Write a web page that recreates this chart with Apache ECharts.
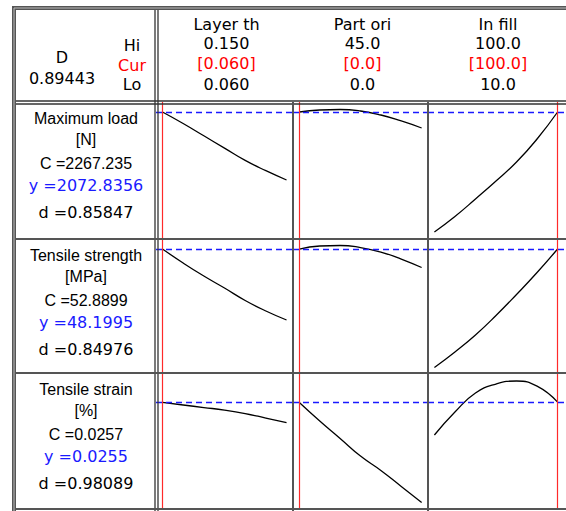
<!DOCTYPE html>
<html>
<head>
<meta charset="utf-8">
<script src="https://cdn.jsdelivr.net/npm/echarts@6/dist/echarts.min.js"></script>
<style>
  html, body { margin: 0; padding: 0; background: #fff; }
  #main { width: 566px; height: 511px; }
</style>
</head>
<body>
<div id="main"></div>
<script>
// factor header
const factors = ["Layer th", "Part ori", "In fill"];
const factorHi = ["0.150", "45.0", "100.0"];
const factorCur = ["[0.060]", "[0.0]", "[100.0]"];
const factorLo = ["0.060", "0.0", "10.0"];
const factorMin = [0.06, 0, 10];
const factorMax = [0.15, 45, 100];
const currentX = [0.06, 0, 100];

// x grid of each factor
const layerTh = [0.06, 0.075, 0.09, 0.105, 0.12, 0.135, 0.15];
const partOri = [0, 7.5, 15, 22.5, 30, 37.5, 45];
const inFill = [10, 25, 40, 55, 70, 85, 100];

// responses
const responses = ["Maximum load", "Tensile strength", "Tensile strain"];
const units = ["[N]", "[MPa]", "[%]"];
const targets = ["C =2267.235", "C =52.8899", "C =0.0257"];
const predicted = ["y =2072.8356", "y =48.1995", "y =0.0255"];
const desirability = ["d =0.85847", "d =0.84976", "d =0.98089"];
const currentY = [2072.8356, 48.1995, 0.0255];
const yRanges = [[937.4, 2162.2], [23.92, 50.16], [0.0175, 0.0277]];
const compositeD = "0.89443";

// predicted response traces (row = response, col = factor)
const loadLayer = [2072.8, 1970.0, 1860.0, 1750.0, 1640.0, 1548.0, 1464.9];
const loadOri = [2072.8, 2090.7, 2095.2, 2081.8, 2046.0, 1992.4, 1929.8];
const loadFill = [1000.0, 1138.6, 1295.0, 1455.9, 1625.8, 1831.4, 2072.8];
const strengthLayer = [48.20, 45.46, 42.91, 40.56, 38.12, 36.06, 34.30];
const strengthOri = [48.20, 48.79, 48.89, 48.49, 47.61, 46.24, 44.58];
const strengthFill = [25.00, 28.04, 31.37, 35.18, 39.30, 43.60, 48.20];
const strainLayer = [0.02549, 0.02530, 0.02511, 0.02492, 0.02466, 0.02432, 0.02397];
const strainOri = [0.02549, 0.02410, 0.02279, 0.02147, 0.02039, 0.01919, 0.01799];
const strainFill = [0.02305, 0.02477, 0.02620, 0.02687, 0.02710, 0.02672, 0.02552];

const xGrids = [layerTh, partOri, inFill];
const traces = [
  [loadLayer, loadOri, loadFill],
  [strengthLayer, strengthOri, strengthFill],
  [strainLayer, strainOri, strainFill],
];

// layout
const colX = [156, 293, 428, 564];
const rowY = [102, 239, 373, 509];
const pad = 0.052;
const gulim = "DejaVu Sans";
const arial = "Liberation Sans";

const grids = [];
const xAxes = [];
const yAxes = [];
const series = [];

for (let r = 0; r < 3; r++) {
  for (let c = 0; c < 3; c++) {
    const i = r * 3 + c;
    const span = factorMax[c] - factorMin[c];
    grids.push({
      left: colX[c],
      top: rowY[r],
      width: colX[c + 1] - colX[c],
      height: rowY[r + 1] - rowY[r],
    });
    xAxes.push({
      type: "value",
      gridIndex: i,
      min: factorMin[c] - pad * span,
      max: factorMax[c] + pad * span,
      show: false,
    });
    yAxes.push({
      type: "value",
      gridIndex: i,
      min: yRanges[r][0],
      max: yRanges[r][1],
      show: false,
    });
    series.push({
      type: "line",
      xAxisIndex: i,
      yAxisIndex: i,
      data: xGrids[c].map((x, k) => [x, traces[r][c][k]]),
      smooth: true,
      showSymbol: false,
      lineStyle: { color: "#000", width: 1.3 },
      silent: true,
      markLine: {
        silent: true,
        symbol: "none",
        precision: 6, // default of 2 would round 0.0255 away
        label: { show: false },
        data: [
          {
            xAxis: currentX[c],
            lineStyle: { color: "#ff2a2a", width: 1.2, type: "solid" },
          },
          {
            yAxis: currentY[r],
            lineStyle: { color: "#1a1aff", width: 1.3, type: [6, 4] },
          },
        ],
      },
    });
  }
}

function line(x1, y1, x2, y2, w, color) {
  return {
    type: "line",
    z: 100,
    silent: true,
    shape: { x1, y1, x2, y2 },
    style: { stroke: color || "#555", lineWidth: w || 2 },
  };
}

function text(str, x, y, font, color) {
  return {
    type: "text",
    z: 100,
    silent: true,
    x,
    y,
    style: {
      text: str,
      fill: color || "#000",
      font,
      textAlign: "center",
      textVerticalAlign: "middle",
    },
  };
}

const graphics = [];

// outer frame
graphics.push({
  type: "rect",
  z: 100,
  silent: true,
  shape: { x: 14, y: 8, width: 600, height: 560 },
  style: { fill: "none", stroke: "#555", lineWidth: 4 },
});
graphics.push({
  type: "rect",
  z: 101,
  silent: true,
  shape: { x: 14, y: 8, width: 600, height: 560 },
  style: { fill: "none", stroke: "#bbb", lineWidth: 1 },
});

// double separators: left column and header
graphics.push(line(155, 10, 155, 511, 1.3, "#333"));
graphics.push(line(158, 10, 158, 511, 1.3, "#333"));
graphics.push(line(16, 101, 566, 101, 1.3, "#333"));
graphics.push(line(16, 104, 566, 104, 1.3, "#333"));

// cell separators
graphics.push(line(colX[1], rowY[0], colX[1], 511, 2));
graphics.push(line(colX[2], rowY[0], colX[2], 511, 2));
graphics.push(line(16, rowY[1], 566, rowY[1], 2));
graphics.push(line(16, rowY[2], 566, rowY[2], 2));
graphics.push(line(16, rowY[3], 566, rowY[3], 2));

// header: composite desirability
const hFont = "16px '" + gulim + "'";
graphics.push(text("D", 62, 57, hFont));
graphics.push(text(compositeD, 62, 78, hFont));
graphics.push(text("Hi", 132, 45, hFont));
graphics.push(text("Cur", 132, 65, hFont, "#ff0000"));
graphics.push(text("Lo", 132, 84, hFont));

// header: factors
for (let c = 0; c < 3; c++) {
  const cx = (colX[c] + colX[c + 1]) / 2 + 2;
  graphics.push(text(factors[c], cx, 24, hFont));
  graphics.push(text(factorHi[c], cx, 43, hFont));
  graphics.push(text(factorCur[c], cx, 63, hFont, "#ff0000"));
  graphics.push(text(factorLo[c], cx, 84, hFont));
}

// left column: responses
const aFont = "16px '" + arial + "'";
for (let r = 0; r < 3; r++) {
  const top = rowY[r];
  graphics.push(text(responses[r], 86, top + 16, aFont));
  graphics.push(text(units[r], 86, top + 37, aFont));
  graphics.push(text(targets[r], 86, top + 61, aFont));
  graphics.push(text(predicted[r], 86, top + 83, hFont, "#1a1aff"));
  graphics.push(text(desirability[r], 86, top + 110, hFont));
}

const chart = echarts.init(document.getElementById("main"), null, {
  renderer: "svg",
});
chart.setOption({
  animation: false,
  grid: grids,
  xAxis: xAxes,
  yAxis: yAxes,
  series: series,
  graphic: graphics,
});
</script>
</body>
</html>
